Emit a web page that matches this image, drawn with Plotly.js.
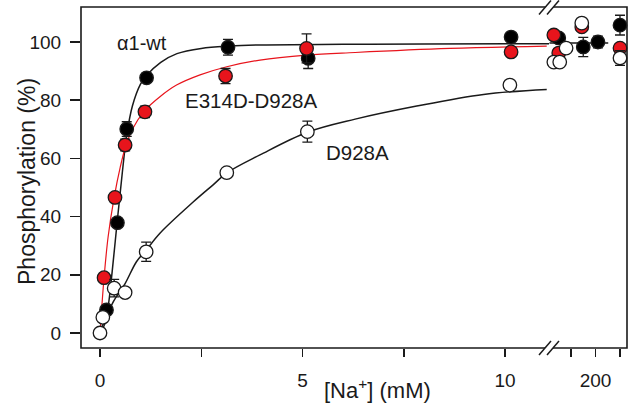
<!DOCTYPE html>
<html><head><meta charset="utf-8">
<script src="https://cdn.plot.ly/plotly-3.0.1.min.js"></script>
<style>html,body{margin:0;padding:0;background:#fff;} #chart{width:633px;height:418px;}</style>
</head><body><div id="chart"></div>
<script>
// ---- data ----
// alpha1-wt (black)
var wtX = [0.16, 0.43, 0.66, 1.15, 3.16, 5.14, 10.15];
var wtY = [7.9, 37.9, 70.1, 87.7, 98.2, 94.4, 101.7];
var wtErr = [1.5, 1.5, 2.5, 1.5, 2.7, 3.5, 1];
var wtHiX = [125, 175, 205, 250];
var wtHiY = [101.4, 98.3, 100, 105.8];
var wtHiErr = [1.5, 3.3, 2, 3.4];
// E314D-D928A (red)
var mutX = [0.10, 0.37, 0.62, 1.11, 3.10, 5.10, 10.15];
var mutY = [19.0, 46.6, 64.6, 76.0, 88.3, 97.8, 96.6];
var mutErr = [1, 1.5, 2, 2, 2.6, 5, 1.5];
var mutHiX = [115, 125, 172, 250];
var mutHiY = [102.4, 96.2, 105.2, 97.9];
var mutHiErr = [1, 1.5, 1, 1.5];
// D928A (white)
var d9X = [0, 0.07, 0.35, 0.62, 1.14, 3.13, 5.12, 10.12];
var d9Y = [0, 5.4, 15.4, 13.9, 27.9, 55.1, 69.2, 85.2];
var d9Err = [0.5, 1, 3, 1, 3.3, 1, 3.6, 1];
var d9HiX = [115, 127, 140, 172, 250];
var d9HiY = [93.1, 93.1, 97.9, 106.5, 94.5];
var d9HiErr = [1.5, 1.5, 1, 1, 2.5];
// fitted curves
var wtFitX = [0, 0.1, 0.2, 0.3, 0.43, 0.55, 0.66, 0.8, 1.0, 1.15, 1.5, 1.9, 2.5, 3.2, 4, 6, 8, 11.2];
var wtFitY = [0, 2.5, 9, 21, 39, 55, 68, 78, 85.5, 88.5, 93, 96, 97.8, 98.6, 99, 99.2, 99.3, 99.4];
var wtFitHiX = [106, 226];
var wtFitHiY = [99.7, 99.7];
var mutFitX = [0, 0.05, 0.1, 0.2, 0.35, 0.5, 0.62, 0.8, 1.11, 1.48, 1.89, 2.47, 3.13, 3.95, 5.1, 6.3, 8.64, 11.03];
var mutFitY = [0, 10, 19, 33, 46.6, 57, 63.5, 70, 76.5, 81.2, 85.2, 88.7, 91.5, 93.8, 95.5, 96.4, 97.8, 98.6];
var d9FitX = [0, 0.33, 0.62, 0.9, 1.14, 1.48, 2.3, 2.8, 3.13, 3.95, 5.12, 6.3, 7.82, 9.47, 11.03];
var d9FitY = [0.4, 10.8, 17, 24.5, 28.5, 34.3, 45, 51, 55, 61.2, 69, 73.5, 78, 82, 83.7];
var xTickVals = [0, 2.5, 5, 7.5, 10];
var xTickText = ['0', '', '5', '', '10'];
var x2TickVals = [150, 200, 250];
var x2TickText = ['', '200', ''];
var yTickVals = [0, 20, 40, 60, 80, 100];
var labels = ['\u03b11-wt', 'E314D-D928A', 'D928A'];

// ---- styling ----
var RED = '#e8141c', INK = '#1a1a1a';
var FONT = 'Liberation Sans, Arial, sans-serif';
var L = 81, R = 627, T = 7, B = 348, W = R - L, H = B - T;
function px(x) { return (x - L) / W; }
function py(y) { return (B - y) / H; }
var split = px(549);

function fit(x, y, color, width, xa) {
  return {x: x, y: y, xaxis: xa, yaxis: 'y', mode: 'lines', type: 'scatter', hoverinfo: 'skip',
    line: {color: color, width: width, shape: 'spline', smoothing: 1}, showlegend: false};
}
function pts(x, y, e, fill, xa) {
  return {x: x, y: y, xaxis: xa, yaxis: 'y', mode: 'markers', type: 'scatter', cliponaxis: false,
    error_y: {type: 'data', array: e, visible: true, color: INK, thickness: 1.3, width: 5},
    marker: {size: 13.5, color: fill, line: {color: INK, width: 1.3}}, showlegend: false};
}
var data = [
  fit(d9FitX, d9FitY, INK, 1.5, 'x'),
  fit(wtFitX, wtFitY, INK, 1.5, 'x'),
  fit(wtFitHiX, wtFitHiY, INK, 1.5, 'x2'),
  fit(mutFitX, mutFitY, RED, 1.2, 'x'),
  pts(wtX, wtY, wtErr, '#000', 'x'),
  pts(wtHiX, wtHiY, wtHiErr, '#000', 'x2'),
  pts(mutX, mutY, mutErr, RED, 'x'),
  pts(mutHiX, mutHiY, mutHiErr, RED, 'x2'),
  pts(d9X, d9Y, d9Err, '#fff', 'x'),
  pts(d9HiX, d9HiY, d9HiErr, '#fff', 'x2')
];

var axBase = {showgrid: false, zeroline: false, showline: false, ticks: 'outside', ticklen: 8,
  tickwidth: 1.5, tickcolor: INK, tickfont: {family: FONT, size: 19, color: INK}, fixedrange: true};
function slash(cx, cy) {
  return {type: 'line', xref: 'paper', yref: 'paper', x0: px(cx - 6), y0: py(cy + 7), x1: px(cx + 6), y1: py(cy - 7),
    line: {color: INK, width: 1.5}};
}
function gap(cy) {
  return {type: 'path', xref: 'paper', yref: 'paper', fillcolor: '#fff', line: {width: 0},
    path: 'M' + px(539) + ',' + py(cy + 7) + ' L' + px(551) + ',' + py(cy - 7) + ' L' + px(559) + ',' + py(cy - 7) +
      ' L' + px(547) + ',' + py(cy + 7) + ' Z'};
}
var layout = {
  width: 633, height: 418, margin: {l: L, r: 633 - R, t: T, b: 418 - B},
  paper_bgcolor: '#fff', plot_bgcolor: '#fff', showlegend: false,
  xaxis: Object.assign({}, axBase, {domain: [0, split], range: [-0.469, 11.086], anchor: 'y',
    tickmode: 'array', tickvals: xTickVals, ticktext: xTickText, ticklabelstandoff: 7}),
  xaxis2: Object.assign({}, axBase, {domain: [split, 1], range: [105.1, 264.3], anchor: 'y',
    tickmode: 'array', tickvals: x2TickVals, ticktext: x2TickText, ticklabelstandoff: 7}),
  yaxis: Object.assign({}, axBase, {domain: [0, 1], range: [-5.15, 112.03], anchor: 'x', ticklen: 10,
    tickmode: 'array', tickvals: yTickVals, ticklabelstandoff: 5}),
  shapes: [
    {type: 'rect', xref: 'paper', yref: 'paper', x0: 0, y0: 0, x1: 1, y1: 1, line: {color: INK, width: 1.6}},
    gap(348), gap(7.5),
    slash(545, 348), slash(553, 348), slash(545, 7.5), slash(553, 7.5)
  ],
  annotations: [
    {xref: 'x', yref: 'y', x: 1.04, y: 99.5, text: labels[0], showarrow: false, font: {family: FONT, size: 20, color: INK}},
    {xref: 'x', yref: 'y', x: 3.75, y: 80, text: labels[1], showarrow: false, font: {family: FONT, size: 20.5, color: INK}},
    {xref: 'x', yref: 'y', x: 6.37, y: 62, text: labels[2], showarrow: false, font: {family: FONT, size: 20.5, color: INK}},
    {xref: 'paper', yref: 'paper', x: px(377), y: py(405), text: '[Na<sup>+</sup>] (mM)', showarrow: false,
      font: {family: FONT, size: 22, color: INK}},
    {xref: 'paper', yref: 'paper', x: px(12), y: py(182), text: 'Phosphorylation (%)', textangle: -90, showarrow: false,
      font: {family: FONT, size: 23, color: INK}}
  ]
};
Plotly.newPlot('chart', data, layout, {displayModeBar: false, staticPlot: true});
</script></body></html>
